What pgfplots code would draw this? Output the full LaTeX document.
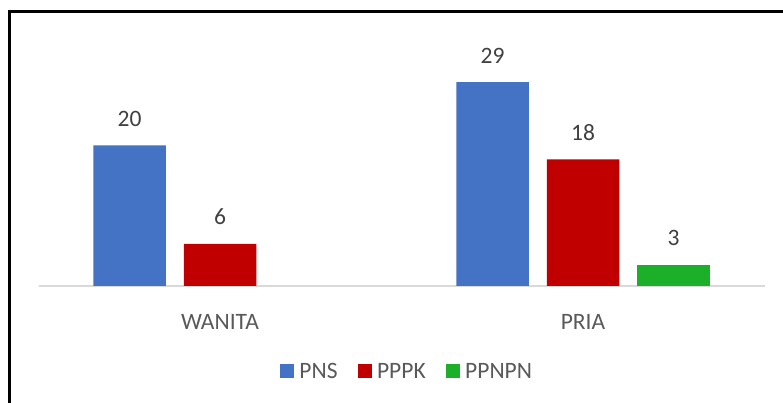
\documentclass[border=0pt]{standalone}
\usepackage{pgfplots}
\pgfplotsset{compat=1.18}
\usepackage{fontspec}
\setmainfont{Carlito}
\definecolor{cblue}{HTML}{4472C4}
\definecolor{cred}{HTML}{C00000}
\definecolor{cgreen}{HTML}{1BAF2A}
\definecolor{labgray}{HTML}{595959}
\definecolor{valgray}{HTML}{404040}
\definecolor{linegray}{HTML}{D9D9D9}
\begin{document}
\begin{tikzpicture}
\useasboundingbox (0,0) rectangle (783pt,403pt);
\begin{axis}[
  at={(38.5pt,117pt)}, anchor=south west,
  x=363pt, y=7.03pt,
  xmin=-0.5, xmax=1.5, ymin=0, ymax=35,
  ybar, bar width=72.5pt,
  axis y line=none,
  axis x line*=bottom,
  x axis line style={-, draw=linegray, line width=1.5pt},
  xtick={0,1}, xticklabels={WANITA,PRIA},
  xtick style={draw=none},
  xticklabel style={font=\fontsize{23.5}{27}\selectfont, text=labgray, anchor=base, yshift=-39pt},
  /pgf/number format/assume math mode=true,
  nodes near coords,
  every node near coord/.append style={font=\fontsize{23.5}{27}\selectfont, text=valgray, anchor=base, yshift=19pt},
  legend columns=3,
  legend style={draw=none, fill=none, inner sep=0pt, outer sep=0pt,
    at={(rel axis cs:0.3326,-0.347)}, anchor=west,
    font=\fontsize{23.5}{27}\selectfont, text=labgray,
    nodes={inner sep=0pt},
    /tikz/every odd column/.append style={column sep=5pt},
    /tikz/every even column/.append style={column sep=20pt}},
  legend image code/.code={\fill[#1] (0pt,-7pt) rectangle (14.5pt,7.5pt);},
]
\addplot[fill=cblue, draw=none, bar shift=-90.5pt] coordinates {(0,20) (1,29)};
\addlegendentry{PNS}
\addplot[fill=cred, draw=none, bar shift=0pt] coordinates {(0,6) (1,18)};
\addlegendentry{PPPK}
\addplot[fill=cgreen, draw=none, bar shift=90.5pt] coordinates {(1,3)};
\addlegendentry{PPNPN}
\end{axis}
\draw[line width=3pt, line join=miter] (9pt,0pt) -- (9pt,391.7pt) -- (783pt,391.7pt);
\end{tikzpicture}
\end{document}
